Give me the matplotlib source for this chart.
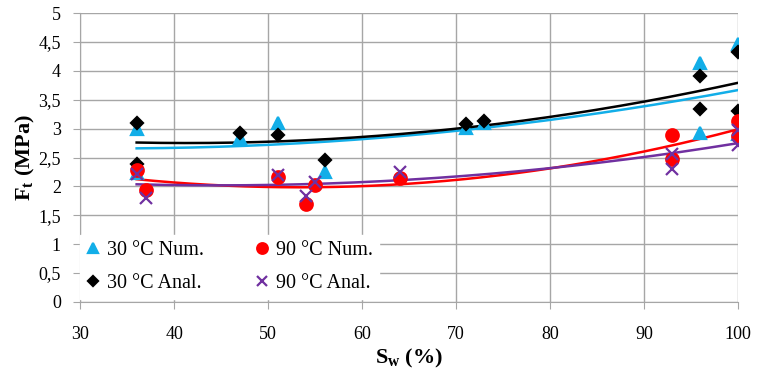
import matplotlib.pyplot as plt
import numpy as np

plt.rcParams['font.family'] = ['Liberation Serif', 'DejaVu Serif']
plt.rcParams['mathtext.fontset'] = 'custom'
plt.rcParams['mathtext.rm'] = 'Liberation Serif'
plt.rcParams['mathtext.bf'] = 'Liberation Serif:bold'

# Sw (%) et Ft (MPa)
x_30_num = [36, 36, 47, 51, 56, 71, 73, 96, 96, 100, 100]
y_30_num = [3.00, 2.23, 2.84, 3.10, 2.25, 3.01, 3.10, 4.13, 2.92, 4.47, 2.90]

x_90_num = [36, 37, 51, 54, 55, 64, 93, 93, 100, 100]
y_90_num = [2.28, 1.94, 2.17, 1.70, 2.02, 2.14, 2.89, 2.48, 3.14, 2.87]

x_30_anal = [36, 36, 47, 51, 56, 71, 73, 96, 96, 100, 100]
y_30_anal = [3.09, 2.39, 2.93, 2.89, 2.46, 3.08, 3.14, 3.91, 3.34, 4.32, 3.30]

x_90_anal = [36, 37, 51, 54, 55, 64, 93, 93, 100, 100]
y_90_anal = [2.21, 1.80, 2.20, 1.83, 2.08, 2.25, 2.57, 2.30, 2.98, 2.72]

c_blue = '#12aee8'
c_red = '#ff0000'
c_black = '#000000'
c_purple = '#7030a0'

fig = plt.figure(figsize=(7.57, 3.76), dpi=100)
ax = fig.add_axes([0.106, 0.197, 0.869, 0.768])

series = [
    (x_30_num, y_30_num, c_blue, '^', 9, '30 °C Num.'),
    (x_30_anal, y_30_anal, c_black, 'D', 6, '30 °C Anal.'),
    (x_90_num, y_90_num, c_red, 'o', 9, '90 °C Num.'),
    (x_90_anal, y_90_anal, c_purple, 'x', 8, '90 °C Anal.'),
]

# courbes de tendance (polynome ordre 2)
xs = np.linspace(36, 100, 200)
for x, y, c, m, ms, lab in series:
    p = np.polyfit(x, y, 2)
    ax.plot(xs, np.polyval(p, xs), color=c, lw=1.8, zorder=2)

handles = []
for x, y, c, m, ms, lab in series:
    h, = ax.plot(x, y, linestyle='none', marker=m, color=c, markersize=ms,
                 mew=1.6, label=lab, zorder=3)
    handles.append(h)

ax.set_xlim(30, 100)
ax.set_ylim(0, 5)
ax.set_xticks(range(30, 101, 10))
ax.set_yticks(np.arange(0, 5.01, 0.5))
ax.set_yticklabels(['0', '0,5', '1', '1,5', '2', '2,5', '3', '3,5', '4', '4,5', '5'])
ax.grid(True, color='#a6a6a6', lw=1)
ax.set_axisbelow(True)
for s in ['top', 'right']:
    ax.spines[s].set_visible(False)
for s in ['left', 'bottom']:
    ax.spines[s].set_color('#a6a6a6')
ax.tick_params(colors='#a6a6a6', labelcolor='black', labelsize=13, length=5)
ax.tick_params(axis='x', pad=12)
ax.tick_params(axis='y', pad=9)

ax.set_xlabel(r'$\mathbf{S_w}$ (%)', fontsize=16, fontweight='bold', labelpad=3)
ax.set_ylabel(r'$\mathbf{F_t}$ (MPa)', fontsize=16, fontweight='bold', labelpad=1)

leg = ax.legend(handles=handles, ncol=2, loc='lower left', bbox_to_anchor=(0.0, 0.01),
                fontsize=14.5, frameon=True, framealpha=1, edgecolor='white',
                facecolor='white', fancybox=False, handlelength=0.7, markerscale=0.85,
                handletextpad=0.35, columnspacing=2.5, borderpad=0.3, labelspacing=0.7,
                borderaxespad=0.0)
leg.set_zorder(5)

fig.savefig('out.png', dpi=100)
